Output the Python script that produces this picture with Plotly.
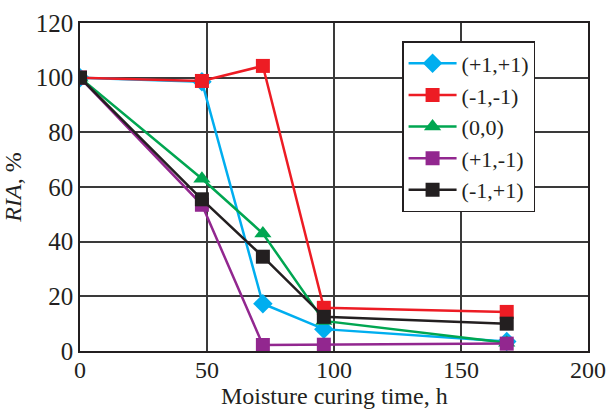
import plotly.graph_objects as go

hours = [0, 48, 72, 96, 168]
series_names = ["(+1,+1)", "(-1,-1)", "(0,0)", "(+1,-1)", "(-1,+1)"]
ria_pp = [100, 98.5, 17.3, 8.0, 3.5]
ria_mm = [100, 98.8, 104.3, 15.8, 14.3]
ria_00 = [100, 63.0, 43.0, 11.0, 3.0]
ria_pm = [100, 53.5, 2.2, 2.3, 2.7]
ria_mp = [100, 55.5, 34.5, 12.5, 10.0]
values = [ria_pp, ria_mm, ria_00, ria_pm, ria_mp]
colors = ["#00AEEF", "#ED1C24", "#00A651", "#92278F", "#231F20"]
symbols = ["diamond", "square", "triangle-up", "square", "square"]
sizes = [15, 14, 15, 14, 14]
x_ticks = [0, 50, 100, 150, 200]
y_ticks = [0, 20, 40, 60, 80, 100, 120]

fig = go.Figure()
for name, v, c, s, sz in zip(series_names, values, colors, symbols, sizes):
    fig.add_trace(go.Scatter(
        x=hours, y=v, name=name, mode="lines+markers",
        line=dict(color=c, width=2.5),
        marker=dict(symbol=s, size=sz, color=c),
    ))

font = "'Liberation Serif', 'Times New Roman', Times, serif"
fig.update_layout(
    width=609, height=409,
    margin=dict(l=80, r=21, t=23, b=58),
    paper_bgcolor="white", plot_bgcolor="white",
    font=dict(family=font, size=24, color="#231F20"),
    showlegend=True,
    legend=dict(
        x=0.634, y=0.945, xanchor="left", yanchor="top",
        bgcolor="white", bordercolor="#231F20", borderwidth=1.5,
        font=dict(family=font, size=22, color="#231F20"),
        itemwidth=48, tracegroupgap=0,
    ),
    xaxis=dict(
        range=[0, 200], tickvals=x_ticks, ticktext=[str(t) for t in x_ticks],
        showgrid=True, gridcolor="#3a3a3a", gridwidth=1.5,
        showline=True, linecolor="#231F20", linewidth=1.5, mirror=True,
        zeroline=False, ticks="", automargin=False,
        tickfont=dict(family=font, size=24), ticklabelstandoff=-4,
    ),
    yaxis=dict(
        range=[0, 120], tickvals=y_ticks, ticktext=[str(t) for t in y_ticks],
        showgrid=True, gridcolor="#3a3a3a", gridwidth=1.5,
        showline=True, linecolor="#231F20", linewidth=1.5, mirror=True,
        zeroline=False, ticks="", automargin=False,
        title=dict(text="<i>RIA</i>, %", font=dict(family=font, size=24), standoff=8),
        tickfont=dict(family=font, size=25),
    ),
    annotations=[dict(
        text="Moisture curing time, h", xref="paper", yref="paper",
        x=0.5, y=-0.136, xanchor="center", yanchor="middle", showarrow=False,
        font=dict(family=font, size=24, color="#231F20"),
    )],
)
fig.write_html("out.html")
